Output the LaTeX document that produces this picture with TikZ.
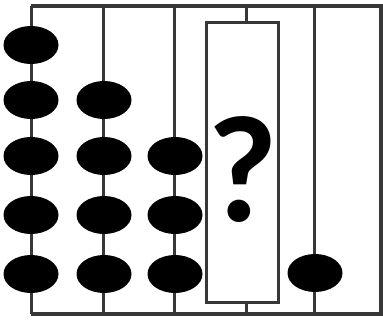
\documentclass[tikz,border=0pt]{standalone}
\usepackage{fontspec}
\newfontfamily\qfont{Carlito}
\usetikzlibrary{positioning,shapes.geometric}
\definecolor{rodgray}{RGB}{55,55,55}
\tikzset{
  rodline/.style={draw=rodgray,line width=3pt},
  framebox/.style={draw=rodgray,line width=3.2pt},
  bead/.style={ellipse,fill=black,minimum width=55pt,minimum height=38pt,inner sep=0pt},
  coverbox/.style={rectangle,draw=rodgray,fill=white,line width=2.4pt,minimum width=72pt,minimum height=280pt,inner sep=0pt},
  qmark/.style={font=\qfont\bfseries\fontsize{152}{152}\selectfont,inner sep=0pt}
}
\begin{document}
\begin{tikzpicture}[x=1pt,y=-1pt]
  \useasboundingbox (0,0) rectangle (383,320);
  %% frame and rods
  \draw[framebox] (31,6) -- (381,6) -- (381,314) -- (31,314);
  \foreach \rx in {31,103,174,246,314}
    \draw[rodline] (\rx,6) -- (\rx,314);

  %% beads
  \foreach \by in {45,100,156,215,274}
    \node[bead] at (31,\by) {};
  \foreach \by in {100,156,215,274}
    \node[bead] at (104,\by) {};
  \foreach \by in {156,215,274}
    \node[bead] at (175,\by) {};
  \node[bead] (last) at (315,273) {};

  %% hidden column
  \node[coverbox] (hide) at (242.5,162.5) {};
  \node[qmark] (ask) at (243,170) {?};
\end{tikzpicture}
\end{document}
